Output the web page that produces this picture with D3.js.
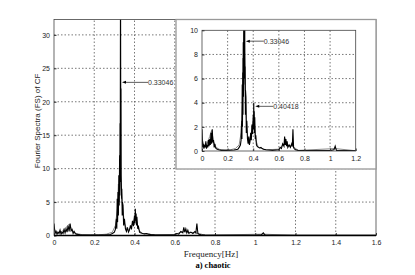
<!DOCTYPE html>
<html>
<head>
<meta charset="utf-8">
<script src="https://cdn.jsdelivr.net/npm/d3@7"></script>
<style>
  body { margin: 0; background: #fff; }
  svg { display: block; font-family: "Liberation Sans", Arial, sans-serif; }
  .tick text { fill: #222; }
</style>
</head>
<body>
<svg id="chart" width="415" height="275"></svg>
<script>
// Spectrum (Hz, amplitude)
const blackFreq = [0, 0.005, 0.01, 0.015, 0.02, 0.025, 0.03, 0.035, 0.04, 0.045, 0.05, 0.055, 0.06, 0.065, 0.07, 0.075, 0.08, 0.085, 0.09, 0.095, 0.1, 0.105, 0.11, 0.12, 0.13, 0.15, 0.2, 0.25, 0.28, 0.29, 0.3, 0.305, 0.31, 0.312, 0.314, 0.316, 0.318, 0.32, 0.322, 0.324, 0.326, 0.327, 0.328, 0.329, 0.3305, 0.332, 0.333, 0.334, 0.336, 0.337, 0.339, 0.34, 0.343, 0.346, 0.35, 0.355, 0.36, 0.365, 0.37, 0.375, 0.38, 0.385, 0.39, 0.395, 0.4, 0.402, 0.404, 0.406, 0.408, 0.41, 0.412, 0.416, 0.42, 0.425, 0.43, 0.44, 0.45, 0.46, 0.47, 0.48, 0.5, 0.55, 0.6, 0.61, 0.62, 0.63, 0.64, 0.645, 0.65, 0.655, 0.66, 0.665, 0.67, 0.68, 0.69, 0.7, 0.705, 0.71, 0.715, 0.72, 0.73, 0.75, 0.9, 1.0, 1.03, 1.04, 1.045, 1.05, 1.2, 1.6];
const blackAmp  = [1.8, 0.3, 0.6, 0.2, 0.5, 0.3, 0.8, 0.2, 0.5, 0.3, 0.9, 0.4, 1.0, 0.5, 1.5, 0.6, 1.8, 0.7, 0.9, 0.3, 0.6, 0.3, 0.2, 0.15, 0.1, 0.05, 0.05, 0.08, 0.15, 0.3, 0.5, 0.9, 2.5, 1.0, 5.5, 2.0, 6.5, 3.0, 9, 4.5, 12, 6, 16.8, 8, 40, 12, 22, 9, 5.5, 7, 3, 5, 4.5, 1.5, 2.5, 1, 0.6, 1.2, 0.5, 0.8, 1.5, 0.9, 2.2, 1.4, 3, 1.8, 4, 2.2, 3.3, 1.5, 2.8, 1, 1.3, 0.5, 0.4, 0.3, 0.25, 0.3, 0.2, 0.15, 0.1, 0.05, 0.1, 0.3, 0.2, 0.6, 0.4, 1.2, 0.5, 1.0, 0.4, 0.8, 0.3, 0.5, 0.3, 0.6, 0.4, 1.8, 0.3, 0.2, 0.1, 0.05, 0.03, 0.03, 0.1, 0.4, 0.2, 0.05, 0.02, 0.02];

const greyFreq = [0, 0.02, 0.04, 0.06, 0.075, 0.09, 0.11, 0.14, 0.18, 0.22, 0.26, 0.29, 0.305, 0.315, 0.32, 0.325, 0.33, 0.34, 0.35, 0.36, 0.37, 0.38, 0.39, 0.4, 0.41, 0.42, 0.44, 0.5, 0.6, 0.64, 0.66, 0.7, 0.72, 0.75, 1.04, 1.2, 1.6];
const greyAmp  = [1.0, 0.4, 0.6, 1.2, 1.7, 0.8, 0.3, 0.12, 0.08, 0.1, 0.2, 0.5, 1.5, 4, 7.7, 5, 9, 4.5, 1.8, 1.0, 0.8, 1.2, 1.8, 2.5, 2.2, 0.9, 0.3, 0.1, 0.15, 0.6, 0.5, 0.4, 0.3, 0.05, 0.2, 0.02, 0.02];

const mainXTicks  = [0, 0.2, 0.4, 0.6, 0.8, 1, 1.2, 1.4, 1.6];
const mainYTicks  = [0, 5, 10, 15, 20, 25, 30];
const insetXTicks = [0, 0.2, 0.4, 0.6, 0.8, 1, 1.2];
const insetYTicks = [0, 2, 4, 6, 8, 10];

const peakMain   = { f: 0.33046, y: 22.9, label: "0.33046" };
const peaksInset = [ { f: 0.33046, y: 9.1, label: "0.33046" },
                     { f: 0.40418, y: 3.7, label: "0.40418" } ];

const svg = d3.select("#chart");

const black = blackFreq.map((f, i) => [f, blackAmp[i]]);
const grey  = greyFreq.map((f, i) => [f, greyAmp[i]]);

const fmt = d => d3.format("~g")(d);

// draws one MATLAB style axes box
function drawAxes(g, x, y, xTicks, yTicks, id, skipTop) {
  const [x0, x1] = x.range();
  const [y0, y1] = y.range();

  g.append("clipPath").attr("id", id)
    .append("rect").attr("x", x0).attr("y", y1).attr("width", x1 - x0).attr("height", y0 - y1);

  // dotted grid
  g.selectAll(".gx").data(xTicks.slice(1, -1)).enter().append("line")
    .attr("x1", d => x(d)).attr("x2", d => x(d)).attr("y1", y0).attr("y2", y1)
    .attr("stroke", "#555").attr("stroke-width", 0.8).attr("stroke-dasharray", "1.5,2");
  g.selectAll(".gy").data(yTicks.slice(1, skipTop ? yTicks.length : -1)).enter().append("line")
    .attr("x1", x0).attr("x2", x1).attr("y1", d => y(d)).attr("y2", d => y(d))
    .attr("stroke", "#555").attr("stroke-width", 0.8).attr("stroke-dasharray", "1.5,2");

  const lines = g.append("g").attr("clip-path", `url(#${id})`);
  const line = d3.line().x(d => x(d[0])).y(d => y(d[1]));
  lines.append("path").datum(grey).attr("d", line)
    .attr("fill", "none").attr("stroke", "#888").attr("stroke-width", 1);
  lines.append("path").datum(black).attr("d", line)
    .attr("fill", "none").attr("stroke", "#000").attr("stroke-width", 1.1);

  g.append("rect").attr("x", x0).attr("y", y1).attr("width", x1 - x0).attr("height", y0 - y1)
    .attr("fill", "none").attr("stroke", "#444").attr("stroke-width", 0.8);

  const ax = g.append("g").attr("transform", `translate(0,${y0})`)
    .call(d3.axisBottom(x).tickValues(xTicks).tickFormat(fmt).tickSizeInner(-2.5).tickSizeOuter(0).tickPadding(5));
  const ay = g.append("g").attr("transform", `translate(${x0},0)`)
    .call(d3.axisLeft(y).tickValues(yTicks).tickFormat(fmt).tickSizeInner(-2.5).tickSizeOuter(0).tickPadding(4));
  [ax, ay].forEach(a => {
    a.select(".domain").remove();
    a.selectAll("line").attr("stroke", "#333");
    a.selectAll("text").attr("font-size", 7).attr("font-family", "Liberation Sans, Arial, sans-serif");
  });
}

function annotate(g, x, y, p, len) {
  const px = x(p.f) + 1.5, py = y(p.y);
  g.append("line").attr("x1", px + 3).attr("x2", px + len).attr("y1", py).attr("y2", py)
    .attr("stroke", "#333").attr("stroke-width", 0.8);
  g.append("path").attr("d", `M${px},${py}L${px + 4},${py - 1.5}L${px + 4},${py + 1.5}Z`).attr("fill", "#000");
  g.append("text").attr("x", px + len).attr("y", py + 2.5).attr("font-size", 7).attr("fill", "#333")
    .text(p.label);
}

// main axes
const xMain = d3.scaleLinear().domain([0, 1.6]).range([54, 376]);
const yMain = d3.scaleLinear().domain([0, 32.3]).range([235.5, 19.5]);
const gMain = svg.append("g");
drawAxes(gMain, xMain, yMain, mainXTicks, mainYTicks, "clipMain", true);
gMain.append("line").attr("x1", 54).attr("x2", 376).attr("y1", 235.5).attr("y2", 235.5)
  .attr("stroke", "#000").attr("stroke-width", 1.4);
annotate(gMain, xMain, yMain, peakMain, 26);

// inset panel
const gIn = svg.append("g");
gIn.append("rect").attr("x", 176).attr("y", 19.5).attr("width", 200).attr("height", 149.5)
  .attr("fill", "#fff").attr("stroke", "#999").attr("stroke-width", 1.3);
const xIn = d3.scaleLinear().domain([0, 1.2]).range([202, 355.7]);
const yIn = d3.scaleLinear().domain([0, 10]).range([151, 30.3]);
drawAxes(gIn, xIn, yIn, insetXTicks, insetYTicks, "clipInset", false);
annotate(gIn, xIn, yIn, peaksInset[0], 18);
annotate(gIn, xIn, yIn, peaksInset[1], 18);

// labels
svg.append("text").attr("x", 211).attr("y", 257).attr("text-anchor", "middle")
  .attr("font-size", 9).attr("font-family", "Liberation Serif, serif").attr("fill", "#222")
  .text("Frequency[Hz]");
svg.append("text").attr("transform", "translate(40,121) rotate(-90)").attr("text-anchor", "middle")
  .attr("font-size", 8).attr("fill", "#222").text("Fourier Spectra (FS) of CF");
svg.append("text").attr("x", 213).attr("y", 268).attr("text-anchor", "middle")
  .attr("font-size", 8.5).attr("font-weight", "bold").attr("font-family", "Liberation Serif, serif")
  .text("a) chaotic");
</script>
</body>
</html>
